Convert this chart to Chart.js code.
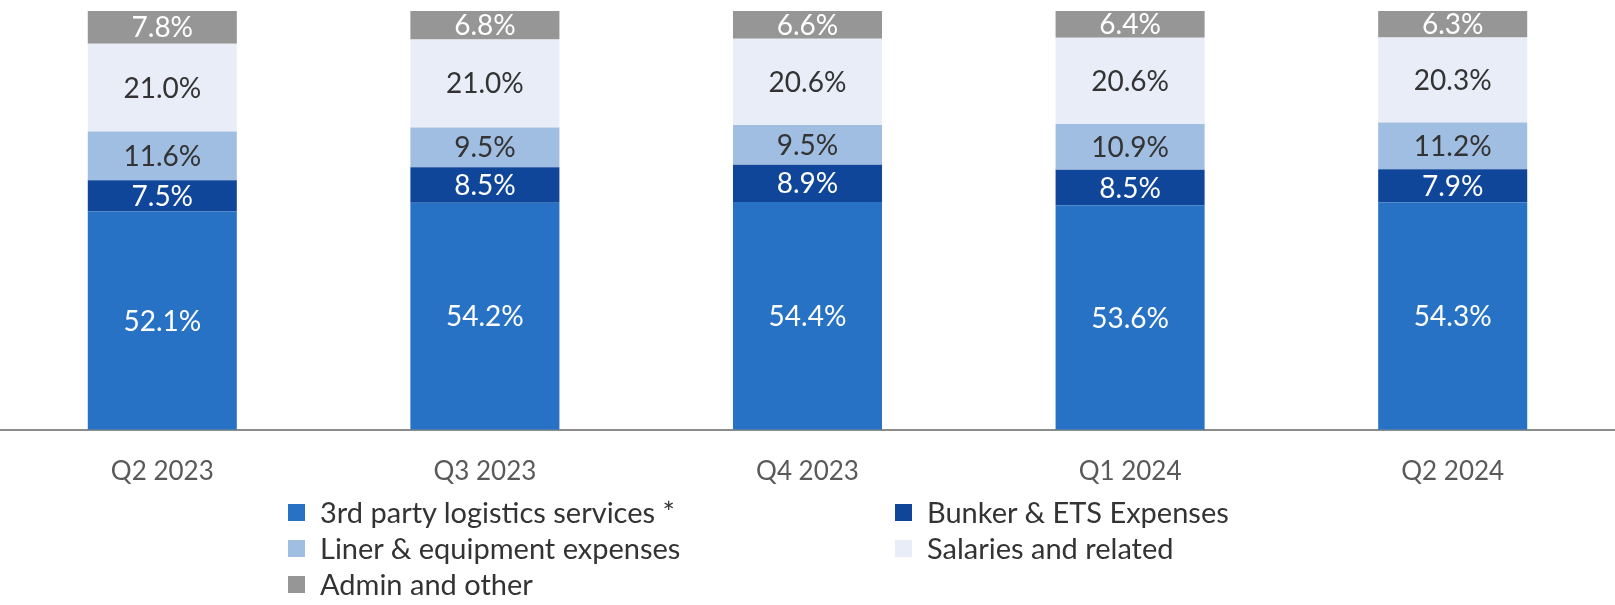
<!DOCTYPE html>
<html>
<head>
<meta charset="utf-8">
<script src="https://cdn.jsdelivr.net/npm/chart.js@4.4.1/dist/chart.umd.min.js"></script>
<style>
  html, body { margin: 0; padding: 0; background: #fff; }
  #wrap { position: relative; width: 1615px; height: 605px; }
  #chart { position: absolute; left: 0; top: 0; }
  .lg { position: absolute; font-family: Lato, sans-serif; font-size: 29px; color: #333; line-height: 30px; white-space: nowrap; }
  .lg span { position: absolute; width: 17px; height: 17px; left: -32px; top: 7px; }
</style>
</head>
<body>
<div id="wrap">
  <canvas id="chart" width="1615" height="605"></canvas>
  <div id="legend"></div>
</div>
<script>
const quarters = ['Q2 2023', 'Q3 2023', 'Q4 2023', 'Q1 2024', 'Q2 2024'];

const thirdParty = [52.1, 54.2, 54.4, 53.6, 54.3];
const bunker = [7.5, 8.5, 8.9, 8.5, 7.9];
const liner = [11.6, 9.5, 9.5, 10.9, 11.2];
const salaries = [21.0, 21.0, 20.6, 20.6, 20.3];
const admin = [7.8, 6.8, 6.6, 6.4, 6.3];

const series = [
  { label: '3rd party logistics services *', data: thirdParty, color: '#2872c6', text: '#ffffff' },
  { label: 'Bunker & ETS Expenses', data: bunker, color: '#0f4699', text: '#ffffff' },
  { label: 'Liner & equipment expenses', data: liner, color: '#a0bde2', text: '#333333' },
  { label: 'Salaries and related', data: salaries, color: '#e8edf8', text: '#333333' },
  { label: 'Admin and other', data: admin, color: '#969696', text: '#ffffff' }
];

// value labels centred in each segment
const segmentLabels = {
  id: 'segmentLabels',
  afterDatasetsDraw(chart) {
    const ctx = chart.ctx;
    ctx.save();
    ctx.font = '28px Lato';
    ctx.textAlign = 'center';
    ctx.textBaseline = 'middle';
    chart.data.datasets.forEach((ds, i) => {
      const meta = chart.getDatasetMeta(i);
      meta.data.forEach((bar, j) => {
        ctx.fillStyle = series[i].text;
        ctx.fillText(ds.data[j].toFixed(1) + '%', bar.x, (bar.y + bar.base) / 2 + 1);
      });
    });
    ctx.restore();
  }
};

new Chart(document.getElementById('chart'), {
  type: 'bar',
  data: {
    labels: quarters,
    datasets: series.map(s => ({
      label: s.label,
      data: s.data,
      backgroundColor: s.color,
      borderWidth: 0,
      barPercentage: 0.462,
      categoryPercentage: 1
    }))
  },
  options: {
    responsive: false,
    animation: false,
    layout: { padding: { top: 11, left: 1, right: 1, bottom: 100 } },
    plugins: {
      legend: { display: false },
      tooltip: { enabled: false }
    },
    scales: {
      x: {
        stacked: true,
        grid: { display: false },
        border: { display: true, color: '#8c8c8c', width: 2 },
        ticks: { color: '#595959', font: { family: 'Lato', size: 26 }, padding: 18 }
      },
      y: {
        stacked: true,
        display: false,
        min: 0,
        max: 100
      }
    }
  },
  plugins: [segmentLabels]
});

// legend in two columns, same order as the reference
const legendPos = [
  [320, 497], [927, 497],
  [320, 533], [927, 533],
  [320, 569]
];
const legend = document.getElementById('legend');
series.forEach((s, i) => {
  const d = document.createElement('div');
  d.className = 'lg';
  d.style.left = legendPos[i][0] + 'px';
  d.style.top = legendPos[i][1] + 'px';
  const sw = document.createElement('span');
  sw.style.background = s.color;
  d.appendChild(sw);
  d.appendChild(document.createTextNode(s.label));
  legend.appendChild(d);
});
</script>
</body>
</html>
